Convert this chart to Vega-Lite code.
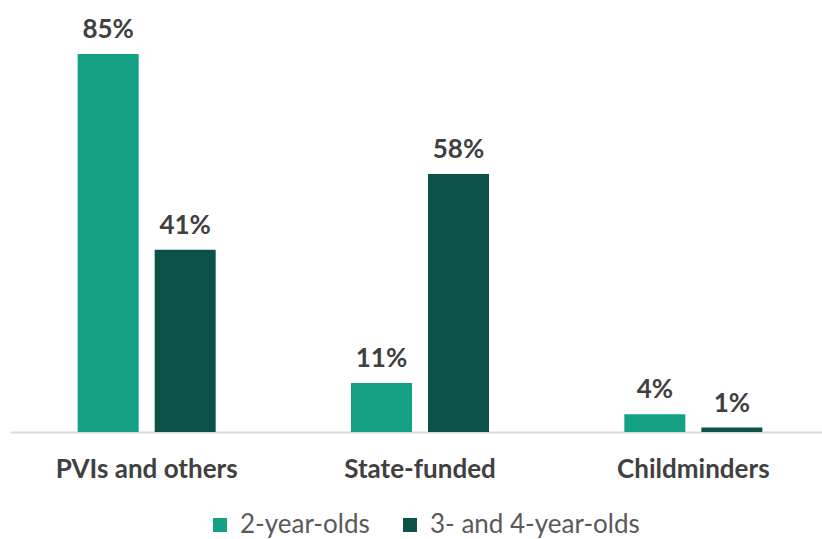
{
  "$schema": "https://vega.github.io/schema/vega-lite/v6.json",
  "autosize": {"type": "none"},
  "padding": {"left": 10, "top": 54, "right": 0, "bottom": 107},
  "width": 820,
  "height": 378,
  "background": "white",
  "data": {"values": [
    {"category": "PVIs and others", "group": "2-year-olds", "value": 85, "label": "85%"},
    {"category": "PVIs and others", "group": "3- and 4-year-olds", "value": 41, "label": "41%"},
    {"category": "State-funded", "group": "2-year-olds", "value": 11, "label": "11%"},
    {"category": "State-funded", "group": "3- and 4-year-olds", "value": 58, "label": "58%"},
    {"category": "Childminders", "group": "2-year-olds", "value": 4, "label": "4%"},
    {"category": "Childminders", "group": "3- and 4-year-olds", "value": 1, "label": "1%"}
  ]},
  "encoding": {
    "x": {"field": "category", "type": "nominal", "sort": ["PVIs and others", "State-funded", "Childminders"],
      "scale": {"paddingInner": 0.495, "paddingOuter": 0.2475},
      "axis": {"title": null, "labelAngle": 0, "ticks": false, "domainColor": "#d9d9d9", "domainWidth": 2,
        "labelFont": "Lato", "labelFontSize": 26, "labelFontWeight": "bold", "labelColor": "#404040", "labelPadding": 24, "labelLimit": 0}},
    "xOffset": {"field": "group", "type": "nominal", "sort": ["2-year-olds", "3- and 4-year-olds"],
      "scale": {"paddingInner": 0.208, "paddingOuter": 0}},
    "y": {"field": "value", "type": "quantitative", "scale": {"domain": [0, 85]}, "axis": null}
  },
  "layer": [
    {"mark": {"type": "bar", "clip": false},
      "encoding": {"color": {"field": "group", "type": "nominal",
        "scale": {"domain": ["2-year-olds", "3- and 4-year-olds"], "range": ["#13a085", "#0b5147"]},
        "legend": {"title": null, "orient": "none", "legendX": 197, "legendY": 458, "direction": "horizontal",
          "symbolType": "square", "symbolSize": 196, "symbolStrokeWidth": 0, "symbolOpacity": 1, "labelLimit": 0,
          "labelFont": "Lato", "labelFontSize": 26, "labelColor": "#595959", "columnPadding": 27, "labelOffset": 7}}}},
    {"mark": {"type": "text", "dy": -24, "font": "Lato", "fontSize": 26, "fontWeight": "bold", "color": "#404040"},
      "encoding": {"text": {"field": "label"}}}
  ],
  "config": {"view": {"stroke": null}}
}
